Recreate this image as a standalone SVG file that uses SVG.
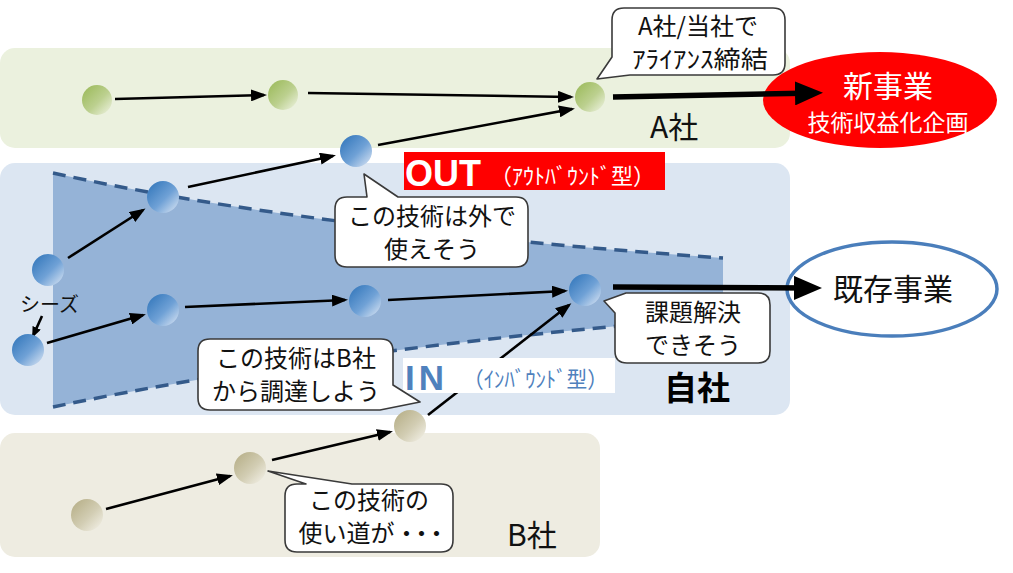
<svg xmlns="http://www.w3.org/2000/svg" width="1013" height="573" viewBox="0 0 1013 573">
<defs>
<style>
.jp{font-family:"Noto Sans CJK JP","Noto Sans",sans-serif;}
.call{fill:#ffffff;stroke:#3a3a3a;stroke-width:1.6;stroke-linejoin:round;}
.ct{font-size:24px;fill:#111;text-anchor:middle;}
.conn{stroke:#000;stroke-width:2.6;fill:none;}
.thick{stroke:#000;stroke-width:5.5;fill:none;}
.dash{fill:none;stroke:#345a8a;stroke-width:3.5;stroke-dasharray:13 8;}
</style>
<linearGradient id="gB" x1="0" y1="0" x2="1" y2="1"><stop offset="0" stop-color="#2c72b8"/><stop offset="0.55" stop-color="#6fa1d6"/><stop offset="1" stop-color="#dfe8f5"/></linearGradient>
<linearGradient id="gG" x1="0" y1="0" x2="1" y2="1"><stop offset="0" stop-color="#98b855"/><stop offset="0.55" stop-color="#bcd08f"/><stop offset="1" stop-color="#f1f5e6"/></linearGradient>
<linearGradient id="gT" x1="0" y1="0" x2="1" y2="1"><stop offset="0" stop-color="#b3ab82"/><stop offset="0.55" stop-color="#d2cdb3"/><stop offset="1" stop-color="#f6f4ec"/></linearGradient>
<marker id="ah" markerUnits="userSpaceOnUse" markerWidth="16" markerHeight="12" refX="13" refY="6" orient="auto"><path d="M0,0 L16,6 L0,12 z" fill="#000"/></marker>
<marker id="ahs" markerUnits="userSpaceOnUse" markerWidth="11" markerHeight="9" refX="9" refY="4.5" orient="auto"><path d="M0,0 L11,4.5 L0,9 z" fill="#000"/></marker>
<marker id="ahT" markerUnits="userSpaceOnUse" markerWidth="28" markerHeight="24" refX="20" refY="12" orient="auto"><path d="M0,0 L28,12 L0,24 z" fill="#000"/></marker>
</defs>

<g id="bands">
<rect id="bandA" x="0" y="48" width="790" height="100" rx="15" fill="#ebf1de"/>
<rect id="bandSelf" x="0" y="163" width="790" height="252" rx="15" fill="#dce6f2"/>
<rect id="bandB" x="0" y="433" width="600" height="124" rx="15" fill="#eeece1"/>
<path id="funnel" d="M53,173 Q307,229 723,258 L723,317 Q333,348 53,407 Z" fill="#95b3d7"/>
<path class="dash" d="M53,173 Q307,229 723,258"/>
<path class="dash" d="M53,407 Q333,348 723,317"/>
</g>

<g id="labels" class="jp">
<text x="650" y="138" font-size="30" fill="#111">A社</text>
<text x="507" y="546" font-size="30" fill="#111">B社</text>
<text x="664" y="400" font-size="33" font-weight="bold" fill="#000">自社</text>
<text x="20" y="312" font-size="20" fill="#111">シーズ</text>
</g>

<g id="out-label">
<rect x="404" y="152" width="261" height="38" fill="#ff0000"/>
<text x="405" y="186" font-family="Liberation Sans, Arial, sans-serif" font-size="36" font-weight="bold" fill="#fff">OUT</text>
<text class="jp" x="490" y="184" font-size="22" fill="#fff" textLength="165" lengthAdjust="spacingAndGlyphs">（ｱｳﾄﾊﾞｳﾝﾄﾞ型）</text>
</g>

<g id="ellipses">
<g id="new-biz">
<ellipse cx="880" cy="100" rx="117" ry="48" fill="#ff0000"/>
<text class="jp" x="888" y="97" font-size="30" fill="#fff" text-anchor="middle">新事業</text>
<text class="jp" x="888" y="131" font-size="23" fill="#fff" text-anchor="middle">技術収益化企画</text>
</g>
<g id="existing-biz">
<ellipse cx="892" cy="289" rx="105" ry="47" fill="#fff" stroke="#4a7ebb" stroke-width="3.5"/>
<text class="jp" x="893" y="300" font-size="30" fill="#111" text-anchor="middle">既存事業</text>
</g>
</g>

<g id="connectors">
<line class="conn" x1="115" y1="99" x2="264" y2="95" marker-end="url(#ah)"/>
<line class="conn" x1="308" y1="93" x2="571" y2="97" marker-end="url(#ah)"/>
<line class="conn" x1="378" y1="145" x2="572" y2="109" marker-end="url(#ah)"/>
<line class="conn" x1="188" y1="187" x2="333" y2="156" marker-end="url(#ah)"/>
<line class="conn" x1="68" y1="258" x2="143" y2="210" marker-end="url(#ah)"/>
<line class="conn" x1="47" y1="343" x2="143" y2="315" marker-end="url(#ah)"/>
<line class="conn" x1="185" y1="307" x2="345" y2="300" marker-end="url(#ah)"/>
<line class="conn" x1="388" y1="300" x2="565" y2="291" marker-end="url(#ah)"/>
<line class="conn" x1="106" y1="509" x2="230" y2="476" marker-end="url(#ah)"/>
<line class="conn" x1="272" y1="460" x2="390" y2="432" marker-end="url(#ah)"/>
<line class="conn" x1="428" y1="415" x2="569" y2="305" marker-end="url(#ah)"/>
<line class="conn" stroke-width="1.6" x1="42" y1="316" x2="33" y2="336" marker-end="url(#ahs)"/>
<line class="thick" x1="613" y1="97" x2="815" y2="93" marker-end="url(#ahT)"/>
<line class="thick" x1="613" y1="287" x2="814" y2="288" marker-end="url(#ahT)"/>
</g>

<g id="in-label">
<rect x="403" y="358" width="212" height="35" fill="#ffffff"/>
<text x="405" y="390" font-family="Liberation Sans, Arial, sans-serif" font-size="35" font-weight="bold" fill="#4f81bd" letter-spacing="4">IN</text>
<text class="jp" x="463" y="387" font-size="22" fill="#4f81bd" textLength="145" lengthAdjust="spacingAndGlyphs">（ｲﾝﾊﾞｳﾝﾄﾞ型）</text>
</g>

<g id="nodes">
<circle id="a1" cx="97" cy="100" r="15" fill="url(#gG)"/>
<circle id="a2" cx="283" cy="95" r="15" fill="url(#gG)"/>
<circle id="a3" cx="590" cy="97" r="15" fill="url(#gG)"/>
<circle id="s-top" cx="356" cy="151" r="16" fill="url(#gB)"/>
<circle id="s1" cx="163" cy="197" r="16" fill="url(#gB)"/>
<circle id="s0" cx="48" cy="270" r="16" fill="url(#gB)"/>
<circle id="seed" cx="28" cy="350" r="16" fill="url(#gB)"/>
<circle id="s2" cx="163" cy="310" r="16" fill="url(#gB)"/>
<circle id="s3" cx="365" cy="301" r="16" fill="url(#gB)"/>
<circle id="s4" cx="585" cy="290" r="16" fill="url(#gB)"/>
<circle id="b1" cx="87" cy="515" r="16" fill="url(#gT)"/>
<circle id="b2" cx="250" cy="468" r="16" fill="url(#gT)"/>
<circle id="b3" cx="410" cy="426" r="16" fill="url(#gT)"/>
</g>

<g id="callouts" class="jp">
<g id="call-alliance">
<path class="call" d="M624,8 L773,8 Q785,8 785,20 L785,63 Q785,75 773,75 L630,75 L597,79 L612,57 L612,20 Q612,8 624,8 Z"/>
<text class="ct" x="698" y="35" font-size="23">A社/当社で</text>
<text class="ct" x="700" y="68" font-size="23" textLength="136" lengthAdjust="spacingAndGlyphs">ｱﾗｲｱﾝｽ締結</text>
</g>
<g id="call-out">
<path class="call" d="M347,197 L367,197 L364,174 L398,197 L516,197 Q528,197 528,209 L528,255 Q528,267 516,267 L347,267 Q335,267 335,255 L335,209 Q335,197 347,197 Z"/>
<text class="ct" x="432" y="225">この技術は外で</text>
<text class="ct" x="432" y="258">使えそう</text>
</g>
<g id="call-solve">
<path class="call" d="M604,301 L626,293 L758,293 Q770,293 770,305 L770,351 Q770,363 758,363 L627,363 Q615,363 615,351 L615,313 Z"/>
<text class="ct" x="693" y="321">課題解決</text>
<text class="ct" x="693" y="354">できそう</text>
</g>
<g id="call-in">
<path class="call" d="M210,339 L381,339 Q393,339 393,351 L393,385 L420,402 L380,410 L210,410 Q198,410 198,398 L198,351 Q198,339 210,339 Z"/>
<text class="ct" x="296" y="367">この技術はB社</text>
<text class="ct" x="296" y="400">から調達しよう</text>
</g>
<g id="call-b">
<path class="call" d="M297,484 L306,484 L268,471 L352,484 L441,484 Q453,484 453,496 L453,540 Q453,552 441,552 L297,552 Q285,552 285,540 L285,496 Q285,484 297,484 Z"/>
<text class="ct" x="369" y="509" font-size="22">この技術の</text>
<text class="ct" x="369" y="542" font-size="22">使い道が<tspan letter-spacing="-9">・・・</tspan></text>
</g>
</g>
</svg>
